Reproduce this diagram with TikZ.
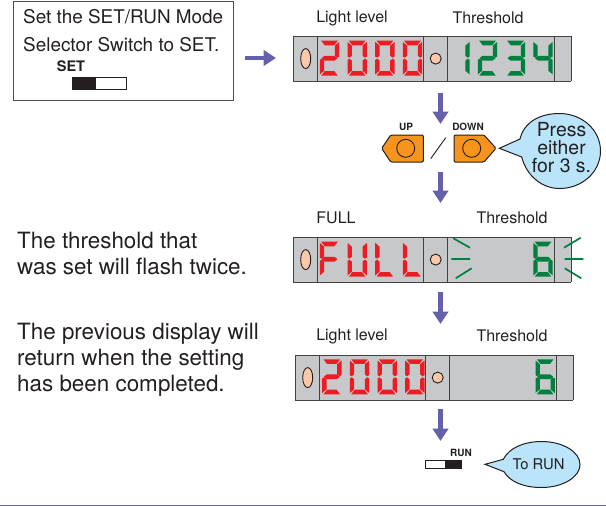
\documentclass[tikz,border=0pt]{standalone}
\usepackage{fontspec}
\setmainfont{TeX Gyre Heros}
\usetikzlibrary{arrows.meta}
\definecolor{panelgray}{HTML}{C7C8CA}
\definecolor{segred}{HTML}{ED1C24}
\definecolor{seggreen}{HTML}{00803F}
\definecolor{peach}{HTML}{FBC8A8}
\definecolor{flow}{HTML}{6560AC}
\definecolor{btn}{HTML}{F7941E}
\definecolor{sky}{HTML}{B9E4F9}
\definecolor{ink}{HTML}{231F20}
\def\sega{(1.2,0)--(17.8,0)--(14.3,4.6)--(4.7,4.6)--cycle}
\def\segb{(19.2,1.2)--(19.2,15.8)--(17.2,17)--(14.8,15)--(14.8,5)--cycle}
\def\segf{(-0.2,1.2)--(-0.2,15.8)--(1.8,17)--(4.2,15)--(4.2,5)--cycle}
\def\segg{(1.5,17.5)--(4.5,15.1)--(14.5,15.1)--(17.5,17.5)--(14.5,19.9)--(4.5,19.9)--cycle}
\def\segc{(19.2,33.8)--(19.2,19.2)--(17.2,18)--(14.8,20)--(14.8,30)--cycle}
\def\sege{(-0.2,33.8)--(-0.2,19.2)--(1.8,18)--(4.2,20)--(4.2,30)--cycle}
\def\segd{(1.2,35)--(17.8,35)--(14.3,30.4)--(4.7,30.4)--cycle}
\newcommand{\sevdigit}[4]{\begin{scope}[shift={(#1,#2)}]\foreach \s in {#4}{\fill[#3] \csname seg\s\endcsname;}\end{scope}}
\newcommand{\panel}[3]{%
 \fill[panelgray] (#1,#2) rectangle ++(278,45);
 \draw[panelline] (#1,#2) -- ++(278,0) (#1,#2+45) -- ++(278,0)
   (#1,#2) -- ++(0,45) (#1+24.5,#2) -- ++(0,45) (#1+130.5,#2) -- ++(0,45)
   (#1+154.5,#2) -- ++(0,45) (#1+261,#2) -- ++(0,45) (#1+278,#2) -- ++(0,45);
 \draw[lamp] (#1+12.7,#2+22.6) ellipse (5 and 10);
 \draw[lamp] (#1+142.7,#2+22.6) circle (5.5);
}
\tikzset{
 panelline/.style={draw=ink!85,line width=1pt},
 lamp/.style={fill=peach,draw=ink,line width=0.9pt},
 flowarrow/.style={draw=flow,line width=4.2pt,-{Triangle[length=12.5pt,width=15.5pt]}},
 body/.style={font=\fontsize{22.4}{26}\selectfont,anchor=west,align=left,inner sep=0pt,text=ink},
 introline/.style={font=\fontsize{18.9}{22}\selectfont,anchor=west,inner sep=0pt,text=ink},
 caption/.style={font=\fontsize{16}{18}\selectfont,inner sep=0pt,text=ink},
 tinylabel/.style={font=\bfseries\fontsize{10}{11}\selectfont,inner sep=0pt,text=ink},
 keycap/.style={fill=btn,draw=ink,line width=1pt,rounded corners=1.2pt},
 bubble/.style={fill=sky,draw=ink,line width=1pt},
 flash/.style={draw=seggreen,line width=1.7pt},
 sw/.style={draw=ink,line width=0.8pt,fill=white},
}
\begin{document}
\begin{tikzpicture}[x=1pt,y=-1pt]
\useasboundingbox (0,0) rectangle (606,506);
% intro box
\draw[draw=ink!80,line width=1pt] (13,1) rectangle (233,100);
\node[introline] (intro1) at (23,17) {Set the SET/RUN Mode};
\node[introline] (intro2) at (23,45) {Selector Switch to SET.};
\node[inner sep=0pt,text=ink,font=\bfseries\fontsize{14.5}{16}\selectfont] (setlabel) at (71,66) {SET};
\draw[sw] (72.7,77.3) rectangle (126.7,89.3);
\fill[ink] (72.7,77.3) rectangle (96,89.3);
% displays
\panel{293}{36}{}
\panel{293}{237}{}
\panel{295}{355}{}
% captions
\node[caption] (c1) at (352,18) {Light level};
\node[caption] (c2) at (488,18) {Threshold};
\node[caption] (c3) at (336,218) {FULL};
\node[caption] (c4) at (512,218) {Threshold};
\node[caption] (c5) at (352,336) {Light level};
\node[caption] (c6) at (512,336) {Threshold};
% digits display 1
\sevdigit{320}{40.7}{segred}{a,b,g,e,d}
\sevdigit{347.7}{40.7}{segred}{a,b,c,d,e,f}
\sevdigit{375.4}{40.7}{segred}{a,b,c,d,e,f}
\sevdigit{403}{40.7}{segred}{a,b,c,d,e,f}
\sevdigit{450.5}{40.7}{seggreen}{b,c}
\sevdigit{478}{40.7}{seggreen}{a,b,g,e,d}
\sevdigit{506}{40.7}{seggreen}{a,b,g,c,d}
\sevdigit{533.5}{40.7}{seggreen}{f,g,b,c}
% digits display 2
\sevdigit{320}{241.7}{segred}{a,f,g,e}
\sevdigit{347.7}{241.7}{segred}{f,e,d,c,b}
\sevdigit{375.4}{241.7}{segred}{f,e,d}
\sevdigit{403}{241.7}{segred}{f,e,d}
\sevdigit{533.5}{241.7}{seggreen}{a,f,g,e,c,d}
\draw[flash] (453.3,238.3) -- (470,247.7) (451.3,259) -- (470,259) (455.7,278.3) -- (471.7,268.3);
\draw[flash] (564,247.7) -- (580.7,237.7) (564.7,259) -- (583.3,259) (564.7,268.3) -- (581.3,278.3);
% digits display 3
\sevdigit{322.3}{359.3}{segred}{a,b,g,e,d}
\sevdigit{350}{359.3}{segred}{a,b,c,d,e,f}
\sevdigit{377.7}{359.3}{segred}{a,b,c,d,e,f}
\sevdigit{405.3}{359.3}{segred}{a,b,c,d,e,f}
\sevdigit{535.7}{359.3}{seggreen}{a,f,g,e,c,d}
% keys
\draw[keycap] (381.7,148.3) -- (390.7,135) -- (423.3,135) -- (423.3,162) -- (390.7,162) -- cycle;
\draw[ink,line width=0.9pt] (405.7,148.3) circle (9);
\draw[keycap] (454,135) -- (484,135) -- (496,148.3) -- (484,162) -- (454,162) -- cycle;
\draw[ink,line width=0.9pt] (471.7,148.3) circle (9);
\draw[ink,line width=0.9pt] (430.7,158.7) -- (445.7,137.7);
\node[tinylabel] (up) at (406,126.7) {UP};
\node[tinylabel] (down) at (468,126.7) {DOWN};
% press bubble
\draw[bubble] (520,139) -- (499.3,148.3) -- (521.7,157) .. controls (527,177) and (543,188.5) .. (559.5,188.5)
  .. controls (582,188.5) and (600.5,172) .. (600.5,151) .. controls (600.5,130) and (582,113.5) .. (559.5,113.5)
  .. controls (540,113.5) and (524,122) .. (520,139) -- cycle;
\node[font=\fontsize{19.4}{18}\selectfont,align=center,inner sep=0pt,text=ink] (press) at (561.5,147.5) {Press\\either\\for 3 s.};
% left text
\node[body] (t1) at (17,254) {The threshold that\\was set will flash twice.};
\node[body] (t2) at (17,360) {The previous display will\\return when the setting\\has been completed.};
% arrows
\coordinate (h0) at (245,58); \coordinate (h1) at (276,58);
\coordinate (a0) at (440.5,93); \coordinate (a1) at (440.5,124);
\coordinate (b0) at (440.5,172); \coordinate (b1) at (440.5,203);
\coordinate (e0) at (440.5,292); \coordinate (e1) at (440.5,324);
\coordinate (f0) at (440.5,409); \coordinate (f1) at (440.5,441);
\draw[flowarrow] (h0) -- (h1);
\draw[flowarrow] (a0) -- (a1);
\draw[flowarrow] (b0) -- (b1);
\draw[flowarrow] (e0) -- (e1);
\draw[flowarrow] (f0) -- (f1);
% run switch
\draw[sw] (425,460) rectangle (461.7,468.3);
\fill[ink] (445,460) rectangle (461.7,468.3);
\node[tinylabel] (runlabel) at (461,453.3) {RUN};
% to run bubble
\draw[bubble] (503.3,459.3) -- (485,464.3) -- (504,471.7) .. controls (510,482) and (524,487.5) .. (541.5,487.5)
  .. controls (563,487.5) and (580,477) .. (580,464.5) .. controls (580,452) and (563,441.5) .. (541.5,441.5)
  .. controls (524,441.5) and (509,448) .. (503.3,459.3) -- cycle;
\node[font=\fontsize{14.8}{16}\selectfont,inner sep=0pt,text=ink] (torun) at (538.5,464.5) {To RUN};
% foot rule
\coordinate (r0) at (0,505); \coordinate (r1) at (606,505);
\draw[draw=flow!85!gray,line width=1pt] (r0) -- (r1);
\end{tikzpicture}
\end{document}
